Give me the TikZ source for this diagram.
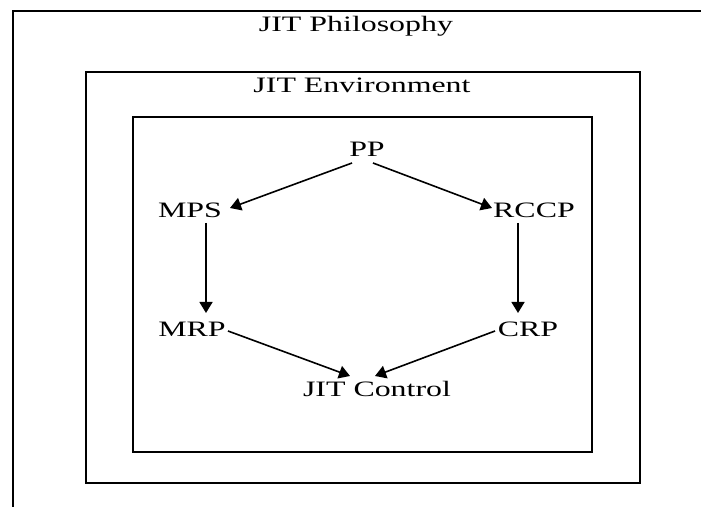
\documentclass[tikz,border=0pt]{standalone}
\usepackage{fontspec}
\setmainfont{Liberation Serif}
\usetikzlibrary{arrows.meta}

\begin{document}
\begin{tikzpicture}
[x=1pt,y=1pt,line width=1.3pt,%
  every node/.style={inner sep=0pt,anchor=base,xscale=1.45,font=\fontsize{22}{26}\selectfont},%
  arr/.style={->,>={Triangle[length=11pt,width=13pt]},line width=1.6pt}]
\useasboundingbox (0,0) rectangle (701,506);
\clip (0,0) rectangle (701,506);
%% nested boxes
\draw (13,-20) rectangle (730,495);
\draw (86,23) rectangle (640,434);
\draw (133,54) rectangle (592,389);
%%
\node (philo) at (356,474) {JIT Philosophy};
\node (env) at (362,413) {JIT Environment};
%%
\node (PP) at (367,349) {PP};
\node (MPS) at (190,288) {MPS};
\node (RCCP) at (534,288) {RCCP};
\node (MRP) at (192,169) {MRP};
\node (CRP) at (528,169) {CRP};
\node (ctrl) at (377,109) {JIT Control};
%%
\draw[arr] ([shift={(-15,-6)}]PP.base) -- ([shift={(40,10)}]MPS.base);
\draw[arr] ([shift={(6,-6)}]PP.base) -- ([shift={(-42,10)}]RCCP.base);
\draw[arr] ([shift={(16,-5)}]MPS.base) -- ([shift={(14,24)}]MRP.base);
\draw[arr] ([shift={(-16,-5)}]RCCP.base) -- ([shift={(-10,24)}]CRP.base);
\draw[arr] ([shift={(36,6)}]MRP.base) -- ([shift={(-27,21)}]ctrl.base);
\draw[arr] ([shift={(-33,6)}]CRP.base) -- ([shift={(-2,21)}]ctrl.base);
\end{tikzpicture}
\end{document}
